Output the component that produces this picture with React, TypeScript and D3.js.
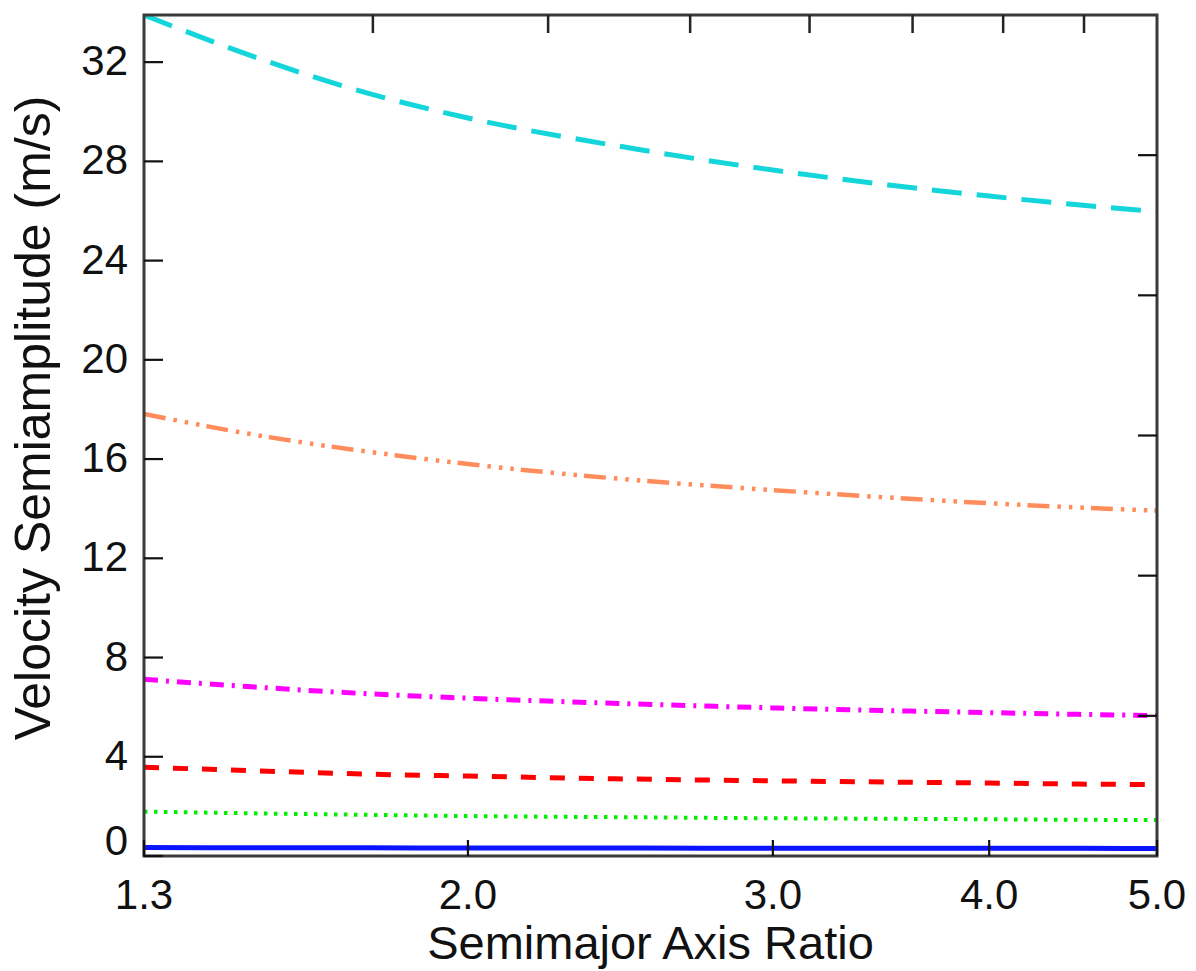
import React from "react";
import * as d3 from "d3";

// ---- data ----
const ratios = [1.3, 1.5, 1.75, 2.0, 2.5, 3.0, 3.5, 4.0, 4.5, 5.0];
const cyanK = [33.9, 32.25, 30.75, 29.75, 28.5, 27.65, 27.05, 26.6, 26.25, 25.97];
const orangeK = [17.82, 17.0, 16.3, 15.8, 15.15, 14.75, 14.45, 14.22, 14.05, 13.92];
const magentaK = [7.12, 6.82, 6.54, 6.36, 6.13, 5.97, 5.86, 5.78, 5.71, 5.66];
const redK = [3.58, 3.44, 3.3, 3.22, 3.1, 3.03, 2.98, 2.94, 2.9, 2.88];
const greenK = [1.79, 1.72, 1.66, 1.61, 1.56, 1.52, 1.5, 1.48, 1.46, 1.45];
const blueK = [0.34, 0.33, 0.33, 0.32, 0.32, 0.31, 0.31, 0.31, 0.31, 0.3];

const xTicks = [1.3, 2.0, 3.0, 4.0, 5.0];
const xTickLabels = ["1.3", "2.0", "3.0", "4.0", "5.0"];
const yTicks = [0, 4, 8, 12, 16, 20, 24, 28, 32];
const topTicks = [1.7625, 2.225, 2.6875, 3.15, 3.6125, 4.075, 4.5375];
const rightTicks = [5.65, 11.3, 16.95, 22.6, 28.25];
const xDomain = [1.3, 5.0];
const yDomain = [0, 33.9];

const xTitle = "Semimajor Axis Ratio";
const yTitle = "Velocity Semiamplitude (m/s)";

const series = [
  { name: "blue", values: blueK, color: "#0a14ff", dash: "none", width: 5 },
  { name: "green", values: greenK, color: "#00ee00", dash: "3.5 6.5", width: 4 },
  { name: "red", values: redK, color: "#ff0000", dash: "15 14", width: 5 },
  { name: "magenta", values: magentaK, color: "#ff00ff", dash: "14 8 3 8", width: 5 },
  { name: "orange", values: orangeK, color: "#ff8c5a", dash: "22 8 3.5 8 3.5 8 3.5 7", width: 4.5 },
  { name: "cyan", values: cyanK, color: "#14d6da", dash: "30 15", width: 5 },
];

const W = 1196;
const H = 971;
const L = 144, R = 1157, T = 15, B = 856;
const FONT = "'Liberation Sans', Arial, Helvetica, sans-serif";

export default function App() {
  const x = d3.scaleLog().domain(xDomain).range([L, R]);
  const y = d3.scaleLinear().domain(yDomain).range([B, T]);
  const line = d3
    .line<number>()
    .x((_, i) => x(ratios[i]))
    .y((d) => y(d))
    .curve(d3.curveMonotoneX);

  const axisColor = "#3a3a3a";
  return (
    <svg
      width={W}
      height={H}
      style={{ position: "absolute", left: 0, top: 0, background: "#fff" }}
    >
      <defs>
        <clipPath id="plot">
          <rect x={L} y={T} width={R - L} height={B - T} />
        </clipPath>
      </defs>
      <g clipPath="url(#plot)">
        {series.map((s) => (
          <path
            key={s.name}
            d={line(s.values) || ""}
            fill="none"
            stroke={s.color}
            strokeWidth={s.width}
            strokeDasharray={s.dash}
          />
        ))}
      </g>
      {/* frame */}
      <rect x={L} y={T} width={R - L} height={B - T} fill="none" stroke={axisColor} strokeWidth={3} />
      {/* left ticks + labels */}
      {yTicks.map((t) => (
        <g key={"y" + t}>
          <line x1={L} x2={L + 19} y1={y(t)} y2={y(t)} stroke="#111" strokeWidth={2.2} />
          <text
            x={L - 16}
            y={t === 0 ? y(t) - 1 : y(t) + 13}
            textAnchor="end"
            fontFamily={FONT}
            fontSize={42}
            fill="#111"
          >
            {t}
          </text>
        </g>
      ))}
      {/* right ticks */}
      {rightTicks.map((t) => (
        <line key={"r" + t} x1={R} x2={R - 19} y1={y(t)} y2={y(t)} stroke="#111" strokeWidth={2.2} />
      ))}
      {/* top ticks */}
      {topTicks.map((t) => (
        <line key={"t" + t} x1={x(t)} x2={x(t)} y1={T} y2={T + 18} stroke="#222" strokeWidth={2.5} />
      ))}
      {/* bottom ticks + labels */}
      {xTicks.map((t, i) => (
        <g key={"x" + t}>
          <line x1={x(t)} x2={x(t)} y1={B} y2={B - 16} stroke="#111" strokeWidth={2.2} />
          <text
            x={x(t)}
            y={909}
            textAnchor="middle"
            fontFamily={FONT}
            fontSize={42}
            fill="#111"
          >
            {xTickLabels[i]}
          </text>
        </g>
      ))}
      <text
        x={(L + R) / 2}
        y={959}
        textAnchor="middle"
        fontFamily={FONT}
        fontSize={47}
        fill="#111"
      >
        {xTitle}
      </text>
      <text
        transform={`translate(50, 418) rotate(-90)`}
        textAnchor="middle"
        fontFamily={FONT}
        fontSize={50}
        fill="#111"
      >
        {yTitle}
      </text>
    </svg>
  );
}
